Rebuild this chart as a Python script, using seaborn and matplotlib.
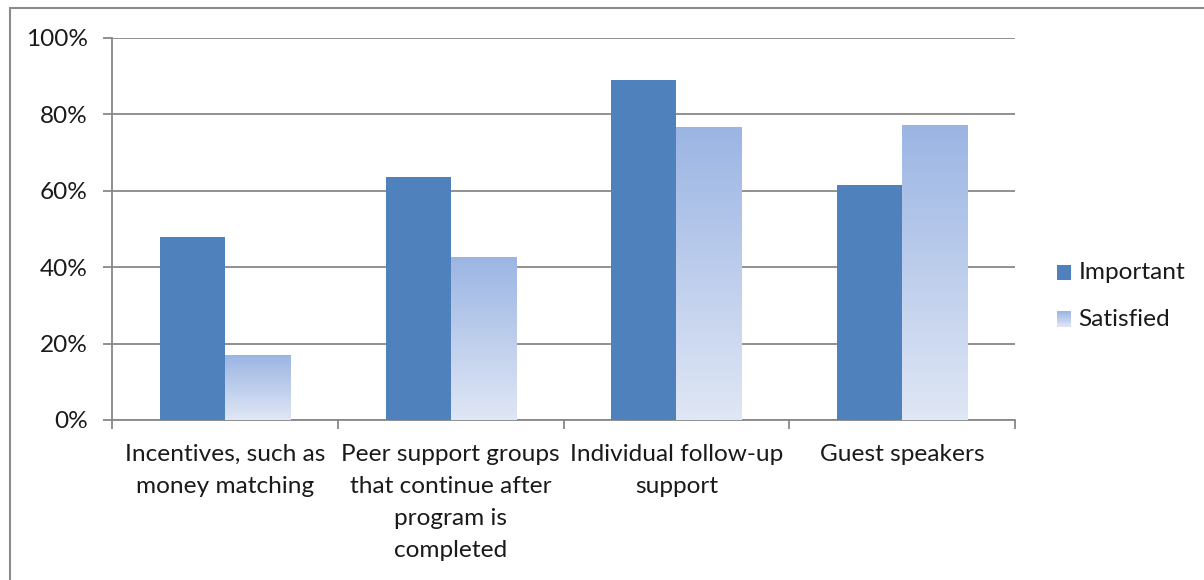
import numpy as np
import pandas as pd
import matplotlib
matplotlib.use("Agg")
import matplotlib.pyplot as plt
import seaborn as sns
from matplotlib.patches import Rectangle
from matplotlib.legend_handler import HandlerBase
from matplotlib.colors import LinearSegmentedColormap, to_rgb

# Survey results: share rating each program element important / satisfied
categories = [
    "Incentives, such as\nmoney matching",
    "Peer support groups\nthat continue after\nprogram is\ncompleted",
    "Individual follow-up\nsupport",
    "Guest speakers",
]
important = [48, 63.5, 89, 61.5]
satisfied = [17, 42.7, 76.7, 77.2]
series_names = ["Important", "Satisfied"]
y_ticks = [0, 20, 40, 60, 80, 100]

IMPORTANT_COLOR = "#4F81BD"
GRAD_TOP = "#9BB5E3"
GRAD_BOTTOM = "#E0E7F5"
GRID_COLOR = "#888888"
TEXT_COLOR = "#1a1a1a"

df = pd.DataFrame({
    "category": categories * 2,
    "series": [series_names[0]] * 4 + [series_names[1]] * 4,
    "value": important + satisfied,
})

sns.set_theme(style="white")
plt.rcParams["font.family"] = ["Lato", "DejaVu Sans"]
FS = 17.6

fig = plt.figure(figsize=(12.04, 5.8), dpi=100)
ax = fig.add_axes([112 / 1204, 1 - 420 / 580, (1015 - 112) / 1204, (420 - 38) / 580])

sns.barplot(
    data=df, x="category", y="value", hue="series", ax=ax,
    palette={"Important": IMPORTANT_COLOR, "Satisfied": GRAD_TOP},
    width=0.576, gap=0, saturation=1, legend=False, zorder=3,
)

# Vertical gradient fill for the "Satisfied" bars
grad_cmap = LinearSegmentedColormap.from_list("sat", [GRAD_BOTTOM, GRAD_TOP])
grad = np.linspace(0, 1, 256).reshape(-1, 1)
for bar in ax.containers[1]:
    x0, y0 = bar.get_x(), bar.get_y()
    w, h = bar.get_width(), bar.get_height()
    bar.set_facecolor("none")
    bar.set_edgecolor("none")
    im = ax.imshow(grad, cmap=grad_cmap, origin="lower", aspect="auto",
                   extent=[x0, x0 + w, y0, y0 + h], zorder=3, interpolation="bilinear")
    im.set_clip_path(bar)
for bar in ax.containers[0]:
    bar.set_edgecolor("none")

ax.set_xlim(-0.5, len(categories) - 0.5)
ax.set_ylim(0, 100)

# Axes styling
ax.set_yticks(y_ticks)
ax.set_yticklabels([f"{t}%" for t in y_ticks], fontsize=FS, color=TEXT_COLOR)
ax.yaxis.grid(True, color=GRID_COLOR, linewidth=1.3, zorder=0)
ax.set_axisbelow(True)
ax.tick_params(axis="y", length=6.5, width=1.3, color=GRID_COLOR, pad=11, left=True)

ax.set_xticks(np.arange(-0.5, len(categories)), labels=[""] * (len(categories) + 1))
ax.set_xticks(np.arange(len(categories)), labels=categories, minor=True)
ax.tick_params(axis="x", which="major", length=6.5, width=1.3, color=GRID_COLOR, bottom=True)
ax.tick_params(axis="x", which="minor", length=0, pad=17.5, labelsize=FS, labelcolor=TEXT_COLOR)
for lbl in ax.get_xticklabels(minor=True):
    lbl.set_linespacing(1.65)
    lbl.set_verticalalignment("top")

for side in ["top", "right"]:
    ax.spines[side].set_visible(False)
for side in ["left", "bottom"]:
    ax.spines[side].set_color(GRID_COLOR)
    ax.spines[side].set_linewidth(1.3)
ax.set_xlabel("")
ax.set_ylabel("")


class GradientHandler(HandlerBase):
    def create_artists(self, legend, orig_handle, xdescent, ydescent,
                       width, height, fontsize, trans):
        n = 12
        c0, c1 = np.array(to_rgb(GRAD_BOTTOM)), np.array(to_rgb(GRAD_TOP))
        artists = []
        for i in range(n):
            c = c0 + (c1 - c0) * (i + 0.5) / n
            r = Rectangle((xdescent, ydescent + height * i / n), width, height / n + 0.2,
                          facecolor=c, edgecolor="none", transform=trans)
            artists.append(r)
        return artists


class SolidHandler(HandlerBase):
    def create_artists(self, legend, orig_handle, xdescent, ydescent,
                       width, height, fontsize, trans):
        return [Rectangle((xdescent, ydescent), width, height,
                          facecolor=IMPORTANT_COLOR, edgecolor="none", transform=trans)]


h_imp = Rectangle((0, 0), 1, 1)
h_sat = Rectangle((0, 0), 1, 1)
leg = fig.legend(
    [h_imp, h_sat], series_names,
    handler_map={h_imp: SolidHandler(), h_sat: GradientHandler()},
    loc="center left", bbox_to_anchor=(1035 / 1204, 1 - 296 / 580),
    frameon=False, fontsize=FS, handlelength=0.58, handleheight=0.58,
    handletextpad=0.3, labelspacing=1.05, labelcolor=TEXT_COLOR,
)

# Outer chart border (left and top edges visible)
fig.patches.append(Rectangle((10 / 1204, -0.1), 1.2, 1 - 8 / 580 + 0.1,
                             transform=fig.transFigure, fill=False,
                             edgecolor="#8C8C8C", linewidth=1.5))

fig.savefig("out.png", dpi=100)
